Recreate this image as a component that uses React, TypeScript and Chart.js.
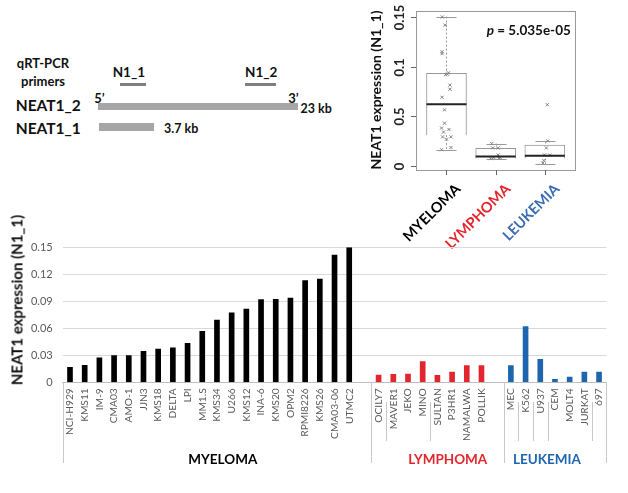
import React, { useEffect, useRef } from 'react';
import { Chart, registerables } from 'chart.js';
Chart.register(...registerables);

const FONT = 'Lato, "Open Sans", sans-serif';

// ---------- bar chart data ----------
const myelomaLines = ['NCI-H929', 'KMS11', 'IM-9', 'CMA03', 'AMO-1', 'JJN3', 'KMS18', 'DELTA', 'LPI', 'MM1.S', 'KMS34', 'U266', 'KMS12', 'INA-6', 'KMS20', 'OPM2', 'RPMI8226', 'KMS26', 'CMA03-06', 'UTMC2'];
const myelomaValues = [0.0167, 0.0189, 0.0273, 0.0296, 0.0296, 0.0344, 0.037, 0.0384, 0.0433, 0.0567, 0.0692, 0.0773, 0.0814, 0.0918, 0.0922, 0.0937, 0.1129, 0.1148, 0.1414, 0.1496];
const lymphomaLines = ['OCILY7', 'MAVER1', 'JEKO', 'MINO', 'SULTAN', 'P3HR1', 'NAMALWA', 'POLLIK'];
const lymphomaValues = [0.0081, 0.0089, 0.009, 0.0229, 0.0078, 0.0114, 0.0185, 0.0185];
const leukemiaLines = ['MEC', 'K562', 'U937', 'CEM', 'MOLT4', 'JURKAT', '697'];
const leukemiaValues = [0.0185, 0.0618, 0.0255, 0.0033, 0.0059, 0.0114, 0.0114];
const groupNames = ['MYELOMA', 'LYMPHOMA', 'LEUKEMIA'];
const groupColors = ['#000000', '#e3262e', '#1f65ae'];
const boxLabelColors = ['#000000', '#e3262e', '#3a6cb4'];
const barYTicks = [0, 0.03, 0.06, 0.09, 0.12, 0.15];
const yTitle = 'NEAT1 expression (N1_1)';

// ---------- box plot data ----------
const boxWhiskerLow = [0.0168, 0.0078, 0.0023];
const boxQ1 = [0.0315, 0.008, 0.008];
const boxMedian = [0.0623, 0.0100, 0.0107];
const boxQ3 = [0.0932, 0.0181, 0.0214];
const boxWhiskerHigh = [0.15, 0.0228, 0.0251];
const boxYTicks = [0, 0.05, 0.1, 0.15];
const boxYTickLabels = ['0', '0.5', '0.1', '0.15'];
const pValueText = ' = 5.035e-05';
const myelomaJitter = [-0.1, 0.09, 0.0, -0.08, 0.09, -0.06, 0.05, -0.1, -0.04, -0.04, -0.09, 0.07, 0.07, -0.02, 0.02, 0.04, -0.09, -0.09, -0.03, -0.085];
const lymphomaJitter = [0.07, -0.04, 0.09, -0.08, -0.1, 0.05, -0.06, 0.05];
const leukemiaJitter = [0.03, 0.05, 0.06, -0.04, -0.02, -0.01, 0.1];

function BarChart() {
  const ref = useRef<HTMLCanvasElement | null>(null);
  useEffect(() => {
    if (!ref.current) return;
    const labels = [...myelomaLines, '', ...lymphomaLines, '', ...leukemiaLines];
    const values = [...myelomaValues, null, ...lymphomaValues, null, ...leukemiaValues];
    const colors = [
      ...myelomaValues.map(() => groupColors[0]), 'rgba(0,0,0,0)',
      ...lymphomaValues.map(() => groupColors[1]), 'rgba(0,0,0,0)',
      ...leukemiaValues.map(() => groupColors[2]),
    ];
    const lymStart = myelomaLines.length + 1;
    const leuStart = lymStart + lymphomaLines.length + 1;
    const total = labels.length;
    const groupBoundaries = [0, lymStart, leuStart, total];
    const innerBoundaries = [lymStart + 1, lymStart + 4, leuStart + 1, leuStart + 2, leuStart + 3, leuStart + 6];
    const groupLabelIdx = [10.4, 25.7, 32.45];

    const groupPlugin = {
      id: 'groups',
      afterDraw(chart: any) {
        const { ctx, chartArea } = chart;
        const x = chart.scales.x;
        const half = (x.getPixelForValue(1) - x.getPixelForValue(0)) / 2;
        const edge = (i: number) => x.getPixelForValue(i) - half;
        ctx.save();
        ctx.strokeStyle = '#c8c8c8';
        ctx.lineWidth = 1;
        groupBoundaries.forEach((i) => {
          const px = Math.round(edge(i)) + 0.5;
          ctx.beginPath();
          ctx.moveTo(px, chartArea.bottom);
          ctx.lineTo(px, 233);
          ctx.stroke();
        });
        innerBoundaries.forEach((i) => {
          const px = Math.round(edge(i)) + 0.5;
          ctx.beginPath();
          ctx.moveTo(px, 172);
          ctx.lineTo(px, 211);
          ctx.stroke();
        });
        ctx.font = `bold 13.5px ${FONT}`;
        ctx.textAlign = 'center';
        ctx.textBaseline = 'middle';
        groupNames.forEach((g, i) => {
          ctx.fillStyle = groupColors[i];
          ctx.fillText(g, x.getPixelForValue(groupLabelIdx[i]), 230);
        });
        ctx.restore();
      },
    };

    const chart = new Chart(ref.current, {
      type: 'bar',
      data: {
        labels,
        datasets: [{ data: values as any, backgroundColor: colors, barThickness: 5 }],
      },
      options: {
        animation: false,
        responsive: false,
        maintainAspectRatio: false,
        layout: { padding: { top: 17.3, right: 21.6, left: 0, bottom: 0 } },
        plugins: { legend: { display: false }, tooltip: { enabled: false } },
        scales: {
          x: {
            grid: { display: false, drawTicks: false },
            border: { color: '#bfbfbf', width: 1 },
            ticks: { autoSkip: false, minRotation: 90, maxRotation: 90, color: '#595959', font: { family: FONT, size: 10.2 }, padding: 6 },
            afterFit: (s: any) => { s.height = 110.7; },
          },
          y: {
            min: 0,
            max: 0.15,
            afterBuildTicks: (s: any) => { s.ticks = barYTicks.map((v) => ({ value: v })); },
            ticks: {
              color: '#595959',
              font: { family: FONT, size: 11 },
              padding: 10,
              callback: (v: any) => (v === 0 ? '0' : Number(v).toFixed(2)),
            },
            grid: { color: '#d9d9d9', drawTicks: false },
            border: { display: false },
            afterFit: (s: any) => { s.width = 62.65; },
          },
        },
      },
      plugins: [groupPlugin],
    });
    return () => chart.destroy();
  }, []);
  return <canvas ref={ref} width={628} height={263} style={{ position: 'absolute', left: 0, top: 230, width: 628, height: 263 }} />;
}

function BoxChart() {
  const ref = useRef<HTMLCanvasElement | null>(null);
  useEffect(() => {
    if (!ref.current) return;
    const groups = [myelomaValues, lymphomaValues, leukemiaValues];
    const jitters = [myelomaJitter, lymphomaJitter, leukemiaJitter];
    const points: { x: number; y: number }[] = [];
    groups.forEach((vals, g) => vals.forEach((v, i) => points.push({ x: g + 1 + jitters[g][i], y: v })));
    const boxes = boxQ1.map((q, i) => ({ x: i + 1, y: [q, boxQ3[i]] }));

    const boxPlugin = {
      id: 'boxdeco',
      beforeDatasetsDraw(chart: any) {
        const { ctx } = chart;
        const x = chart.scales.x;
        const y = chart.scales.y;
        const capW = 20;
        ctx.save();
        ctx.strokeStyle = '#9a9a9a';
        ctx.lineWidth = 1;
        boxQ1.forEach((_, i) => {
          const cx = Math.round(x.getPixelForValue(i + 1)) + 0.5;
          ctx.setLineDash([2, 2]);
          ctx.beginPath();
          ctx.moveTo(cx, y.getPixelForValue(boxWhiskerHigh[i]));
          ctx.lineTo(cx, y.getPixelForValue(boxQ3[i]));
          ctx.moveTo(cx, y.getPixelForValue(boxQ1[i]));
          ctx.lineTo(cx, y.getPixelForValue(boxWhiskerLow[i]));
          ctx.stroke();
          ctx.setLineDash([]);
          ctx.beginPath();
          [boxWhiskerHigh[i], boxWhiskerLow[i]].forEach((w) => {
            const py = Math.round(y.getPixelForValue(w)) + 0.5;
            ctx.moveTo(cx - capW / 2, py);
            ctx.lineTo(cx + capW / 2, py);
          });
          ctx.stroke();
        });
        ctx.restore();
      },
      afterDatasetsDraw(chart: any) {
        const { ctx, chartArea } = chart;
        const x = chart.scales.x;
        const y = chart.scales.y;
        ctx.save();
        // medians
        ctx.strokeStyle = '#222';
        ctx.lineWidth = 2;
        boxMedian.forEach((m, i) => {
          const cx = x.getPixelForValue(i + 1);
          const py = y.getPixelForValue(m);
          ctx.beginPath();
          ctx.moveTo(cx - 20, py);
          ctx.lineTo(cx + 20, py);
          ctx.stroke();
        });
        // frame
        ctx.strokeStyle = '#9a9a9a';
        ctx.lineWidth = 1;
        ctx.strokeRect(Math.round(chartArea.left) + 0.5, Math.round(chartArea.top) + 0.5, Math.round(chartArea.right - chartArea.left), Math.round(chartArea.bottom - chartArea.top));
        // y ticks
        ctx.strokeStyle = '#666';
        boxYTicks.forEach((v, i) => {
          const py = Math.round(y.getPixelForValue(v)) + 0.5;
          ctx.beginPath();
          ctx.moveTo(chartArea.left - 5, py);
          ctx.lineTo(chartArea.left, py);
          ctx.stroke();
          ctx.save();
          ctx.translate(chartArea.left - 16, py);
          ctx.rotate(-Math.PI / 2);
          ctx.font = `bold 13px ${FONT}`;
          ctx.fillStyle = '#222';
          ctx.textAlign = 'center';
          ctx.textBaseline = 'middle';
          ctx.fillText(boxYTickLabels[i], 0, 0);
          ctx.restore();
        });
        // x ticks + category labels
        groupNames.forEach((g, i) => {
          const px = Math.round(x.getPixelForValue(i + 1)) + 0.5;
          ctx.beginPath();
          ctx.moveTo(px, chartArea.bottom);
          ctx.lineTo(px, chartArea.bottom + 5);
          ctx.stroke();
          ctx.save();
          ctx.translate(px + 11.5, 186.5);
          ctx.rotate(-Math.PI / 4);
          ctx.font = `bold 14.5px ${FONT}`;
          ctx.fillStyle = boxLabelColors[i];
          ctx.textAlign = 'right';
          ctx.textBaseline = 'middle';
          ctx.fillText(g, 0, 0);
          ctx.restore();
        });
        // y title
        ctx.save();
        ctx.translate(56.7, 90);
        ctx.rotate(-Math.PI / 2);
        ctx.font = `bold 14px ${FONT}`;
        ctx.fillStyle = '#111';
        ctx.textAlign = 'center';
        ctx.textBaseline = 'middle';
        ctx.fillText(yTitle, 0, 0);
        ctx.restore();
        // p value
        ctx.textBaseline = 'middle';
        ctx.textAlign = 'left';
        ctx.fillStyle = '#111';
        ctx.font = `italic bold 13.5px ${FONT}`;
        ctx.fillText('p', 166.7, 31);
        const pw = ctx.measureText('p').width;
        ctx.font = `bold 13.5px ${FONT}`;
        ctx.fillText(pValueText, 166.7 + pw, 31);
        ctx.restore();
      },
    };

    const chart = new Chart(ref.current, {
      type: 'bar',
      data: {
        datasets: [
          { type: 'bar', data: boxes as any, backgroundColor: '#ffffff', borderColor: '#9a9a9a', borderWidth: 1, barThickness: 40, grouped: false, order: 2 } as any,
          { type: 'scatter', data: points as any, pointStyle: 'crossRot', pointRadius: 2.2, borderColor: '#808080', borderWidth: 1, backgroundColor: '#808080', order: 1 } as any,
        ],
      },
      options: {
        animation: false,
        responsive: false,
        maintainAspectRatio: false,
        layout: { padding: { left: 96, right: 52.7, top: 10.7, bottom: 100 } },
        plugins: { legend: { display: false }, tooltip: { enabled: false } },
        scales: {
          x: { type: 'linear', min: 0.38, max: 3.62, offset: false, display: false },
          y: { type: 'linear', min: -0.0036, max: 0.1559, display: false },
        },
      },
      plugins: [boxPlugin],
    });
    return () => chart.destroy();
  }, []);
  return <canvas ref={ref} width={308} height={270} style={{ position: 'absolute', left: 320, top: 0, width: 308, height: 270 }} />;
}

function T(props: { x: number; cy: number; size: number; center?: boolean; children: React.ReactNode }) {
  return (
    <div
      style={{
        position: 'absolute',
        left: props.x,
        top: props.cy,
        transform: props.center ? 'translate(-50%, -50%)' : 'translateY(-50%)',
        fontSize: props.size,
        fontWeight: 'bold',
        lineHeight: 1,
        whiteSpace: 'nowrap',
        color: '#111',
        fontFamily: FONT,
      }}
    >
      {props.children}
    </div>
  );
}

function Rect(props: { x: number; y: number; w: number; h: number; c: string }) {
  return <div style={{ position: 'absolute', left: props.x, top: props.y, width: props.w, height: props.h, background: props.c }} />;
}

function Diagram() {
  return (
    <>
      <T x={43} cy={63} size={13} center>qRT-PCR</T>
      <T x={43} cy={81} size={13} center>primers</T>
      <T x={112.7} cy={73} size={13.5}>N1_1</T>
      <Rect x={120} y={82.5} w={26} h={3} c="#7f7f7f" />
      <T x={245} cy={73} size={13.5}>N1_2</T>
      <Rect x={245} y={82.5} w={31} h={3} c="#7f7f7f" />
      <T x={94.3} cy={97.5} size={13}>5’</T>
      <T x={288.3} cy={97.5} size={13}>3’</T>
      <T x={15.7} cy={106} size={15.5}>NEAT1_2</T>
      <Rect x={98.3} y={102.7} w={199.4} h={7.6} c="#a6a6a6" />
      <T x={300.5} cy={109} size={12.5}>23 kb</T>
      <T x={15.7} cy={128.5} size={15.5}>NEAT1_1</T>
      <Rect x={99} y={123.3} w={55} h={7.7} c="#a6a6a6" />
      <T x={164} cy={129} size={12.5}>3.7 kb</T>
    </>
  );
}

export default function App() {
  return (
    <div style={{ position: 'absolute', left: 0, top: 0, width: 628, height: 493, background: '#ffffff', overflow: 'hidden', fontFamily: FONT }}>
      <Diagram />
      <BoxChart />
      <BarChart />
      <div
        style={{
          position: 'absolute',
          left: 16.5,
          top: 300,
          transform: 'translate(-50%, -50%) rotate(-90deg)',
          fontSize: 15,
          fontWeight: 'bold',
          whiteSpace: 'nowrap',
          lineHeight: 1,
          color: '#111',
          fontFamily: FONT,
        }}
      >
        {yTitle}
      </div>
    </div>
  );
}
